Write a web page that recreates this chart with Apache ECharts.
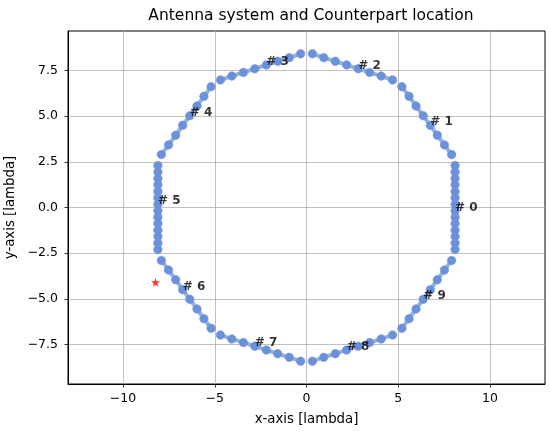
<!DOCTYPE html>
<html>
<head>
<meta charset="utf-8">
<script src="https://cdn.jsdelivr.net/npm/echarts@6/dist/echarts.min.js"></script>
<style>
html, body { margin: 0; padding: 0; background: #fff; }
#chart { width: 550px; height: 432px; }
</style>
</head>
<body>
<div id="chart"></div>
<script>
// antenna sub-arrays (x, y in lambda)
var arr0 = [[8.1,-2.3],[8.1,-1.95],[8.1,-1.59],[8.1,-1.24],[8.1,-0.88],[8.1,-0.53],[8.1,-0.18],
            [8.1,0.18],[8.1,0.53],[8.1,0.88],[8.1,1.24],[8.1,1.59],[8.1,1.95],[8.1,2.3]];
var arr1 = [[7.91,2.90],[7.52,3.43],[7.13,3.96],[6.75,4.50],[6.36,5.03],[5.97,5.56],[5.59,6.09],[5.20,6.62]];
var arr2 = [[4.69,6.99],[4.07,7.20],[3.44,7.40],[2.82,7.60],[2.19,7.81],[1.57,8.01],[0.94,8.21],[0.32,8.42]];
var arr3 = [[-0.32,8.42],[-0.94,8.21],[-1.57,8.01],[-2.19,7.81],[-2.82,7.60],[-3.44,7.40],[-4.07,7.20],[-4.69,6.99]];
var arr4 = [[-5.20,6.62],[-5.59,6.09],[-5.97,5.56],[-6.36,5.03],[-6.75,4.50],[-7.13,3.96],[-7.52,3.43],[-7.91,2.90]];
var arr5 = [[-8.1,2.3],[-8.1,1.95],[-8.1,1.59],[-8.1,1.24],[-8.1,0.88],[-8.1,0.53],[-8.1,0.18],
            [-8.1,-0.18],[-8.1,-0.53],[-8.1,-0.88],[-8.1,-1.24],[-8.1,-1.59],[-8.1,-1.95],[-8.1,-2.3]];
var arr6 = [[-7.91,-2.90],[-7.52,-3.43],[-7.13,-3.96],[-6.75,-4.50],[-6.36,-5.03],[-5.97,-5.56],[-5.59,-6.09],[-5.20,-6.62]];
var arr7 = [[-4.69,-6.99],[-4.07,-7.20],[-3.44,-7.40],[-2.82,-7.60],[-2.19,-7.81],[-1.57,-8.01],[-0.94,-8.21],[-0.32,-8.42]];
var arr8 = [[0.32,-8.42],[0.94,-8.21],[1.57,-8.01],[2.19,-7.81],[2.82,-7.60],[3.44,-7.40],[4.07,-7.20],[4.69,-6.99]];
var arr9 = [[5.20,-6.62],[5.59,-6.09],[5.97,-5.56],[6.36,-5.03],[6.75,-4.50],[7.13,-3.96],[7.52,-3.43],[7.91,-2.90]];
var subarrays = [arr0, arr1, arr2, arr3, arr4, arr5, arr6, arr7, arr8, arr9];

// "# k" label anchors
var labelText = ['# 0','# 1','# 2','# 3','# 4','# 5','# 6','# 7','# 8','# 9'];
var labelX = [8.1, 6.75, 2.82, -2.19, -6.36, -8.1, -6.75, -2.82, 2.19, 6.36];
var labelY = [-0.18, 4.50, 7.60, 7.81, 5.03, 0.18, -4.50, -7.60, -7.81, -5.03];

// counterpart location
var counterpart = [-8.23, -4.1];

var xTicks = [-10, -5, 0, 5, 10];
var yTicks = [-7.5, -5, -2.5, 0, 2.5, 5, 7.5];

var chart = echarts.init(document.getElementById('chart'));
var FONT = 'DejaVu Sans';
function minus(s) { return String(s).replace('-', '\u2212'); }

var series = [];
for (var i = 0; i < subarrays.length; i++) {
    series.push({
        type: 'line',
        data: subarrays[i],
        symbol: 'circle',
        symbolSize: 8.5,
        showSymbol: true,
        animation: false,
        lineStyle: { color: '#8fb4dc', width: 4 },
        itemStyle: { color: '#6a92da', borderColor: '#7b8ee0', borderWidth: 0.6 },
        z: 3
    });
}
var labelData = [];
for (var j = 0; j < labelText.length; j++) {
    labelData.push({ name: labelText[j], value: [labelX[j], labelY[j]] });
}
series.push({
    type: 'scatter',
    data: labelData,
    symbolSize: 0,
    animation: false,
    z: 5,
    label: {
        show: true,
        formatter: '{b}',
        position: [0, 3],
        align: 'left',
        verticalAlign: 'bottom',
        fontFamily: FONT,
        fontWeight: 'bold',
        fontSize: 12,
        color: '#000'
    }
});
series.push({
    type: 'scatter',
    data: [counterpart],
    symbol: 'path://M50,0 L61.8,35.3 L98.9,35.3 L68.9,57.1 L80.3,92.4 L50,70.6 L19.7,92.4 L31.1,57.1 L1.1,35.3 L38.2,35.3 Z',
    symbolSize: 9,
    animation: false,
    itemStyle: { color: '#ff0000' },
    z: 6
});

var option = {
    animation: false,
    backgroundColor: '#fff',
    title: {
        text: 'Antenna system and Counterpart location',
        left: 306, top: 3, textAlign: 'center',
        textStyle: { fontFamily: FONT, fontSize: 15.5, fontWeight: 'normal', color: '#000' }
    },
    grid: { left: 68, right: 5, top: 31, bottom: 48, outerBoundsMode: 'none', containLabel: false,
            show: true, borderColor: '#000', borderWidth: 1 },
    xAxis: {
        type: 'value', min: -13, max: 13,
        name: 'x-axis [lambda]', nameLocation: 'middle', nameGap: 29,
        nameTextStyle: { fontFamily: FONT, fontSize: 13.3, color: '#000' },
        axisLine: { show: true, onZero: false, lineStyle: { color: '#000', width: 1 } },
        axisTick: { show: true, length: 3.5, customValues: xTicks, lineStyle: { color: '#000', width: 0.8 } },
        axisLabel: { customValues: xTicks, margin: 8, fontFamily: FONT, fontSize: 12.5, color: '#000',
                     formatter: function (v) { return minus(v); } },
        splitLine: { show: true, lineStyle: { color: '#b0b0b0', width: 0.8 } }
    },
    yAxis: {
        type: 'value', min: -9.67, max: 9.67,
        name: 'y-axis [lambda]', nameLocation: 'middle', nameGap: 45,
        nameTextStyle: { fontFamily: FONT, fontSize: 13.3, color: '#000' },
        axisLine: { show: true, onZero: false, lineStyle: { color: '#000', width: 1 } },
        axisTick: { show: true, length: 3.5, customValues: yTicks, lineStyle: { color: '#000', width: 0.8 } },
        axisLabel: { customValues: yTicks, margin: 10, fontFamily: FONT, fontSize: 12.5, color: '#000',
                     formatter: function (v) { return minus(v.toFixed(1)); } },
        splitLine: { show: true, lineStyle: { color: '#b0b0b0', width: 0.8 } }
    },
    series: series
};
chart.setOption(option);
</script>
</body>
</html>
